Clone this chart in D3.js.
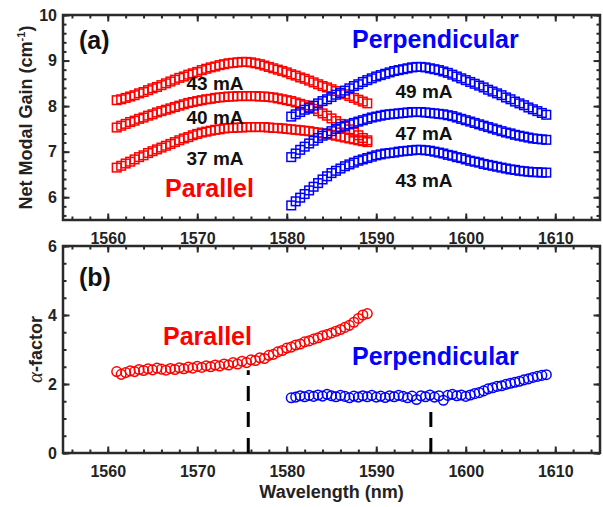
<!DOCTYPE html>
<html>
<head>
<meta charset="utf-8">
<script src="https://cdn.jsdelivr.net/npm/d3@7"></script>
<style>
body { margin: 0; background: #fff; }
svg { display: block; }
text { font-family: "Liberation Sans", Arial, sans-serif; font-weight: bold; }
</style>
</head>
<body>
<div id="chart"></div>
<script>
// wavelength grids (nm)
var wlRed = [1561,1561.5,1562,1562.5,1563,1563.5,1564,1564.5,1565,1565.5,1566,1566.5,1567,1567.5,1568,1568.5,1569,1569.5,1570,1570.5,
  1571,1571.5,1572,1572.5,1573,1573.5,1574,1574.5,1575,1575.5,1576,1576.5,1577,1577.5,1578,1578.5,1579,1579.5,1580,1580.5,
  1581,1581.5,1582,1582.5,1583,1583.5,1584,1584.5,1585,1585.5,1586,1586.5,1587,1587.5,1588,1588.5,1589];
var wlBlue = [1580.5,1581,1581.5,1582,1582.5,1583,1583.5,1584,1584.5,1585,1585.5,1586,1586.5,1587,1587.5,1588,1588.5,1589,1589.5,1590,
  1590.5,1591,1591.5,1592,1592.5,1593,1593.5,1594,1594.5,1595,1595.5,1596,1596.5,1597,1597.5,1598,1598.5,1599,1599.5,1600,
  1600.5,1601,1601.5,1602,1602.5,1603,1603.5,1604,1604.5,1605,1605.5,1606,1606.5,1607,1607.5,1608,1608.5,1609];

// net modal gain (cm-1), parallel
var gainPar43 = [8.13,8.15,8.18,8.21,8.24,8.28,8.31,8.35,8.39,8.42,8.46,8.50,8.54,8.58,8.62,8.65,8.69,8.72,8.75,8.79,
  8.82,8.85,8.87,8.90,8.92,8.94,8.95,8.96,8.97,8.97,8.96,8.94,8.92,8.89,8.86,8.83,8.80,8.77,8.74,8.70,
  8.67,8.63,8.60,8.56,8.52,8.48,8.44,8.41,8.37,8.33,8.29,8.26,8.22,8.18,8.14,8.10,8.06];
var gainPar40 = [7.53,7.57,7.61,7.65,7.68,7.72,7.75,7.79,7.82,7.86,7.89,7.92,7.95,7.98,8.01,8.04,8.07,8.09,8.11,8.13,
  8.15,8.16,8.18,8.19,8.20,8.21,8.21,8.22,8.22,8.22,8.22,8.22,8.21,8.21,8.20,8.19,8.17,8.15,8.13,8.11,
  8.08,8.05,8.02,7.98,7.94,7.89,7.84,7.79,7.73,7.67,7.61,7.55,7.49,7.42,7.36,7.30,7.25];
var gainPar37 = [6.65,6.69,6.74,6.78,6.83,6.88,6.92,6.97,7.01,7.05,7.09,7.13,7.17,7.21,7.25,7.29,7.32,7.36,7.39,7.42,
  7.44,7.46,7.48,7.49,7.51,7.52,7.52,7.53,7.53,7.54,7.54,7.54,7.54,7.54,7.53,7.52,7.52,7.51,7.50,7.49,
  7.48,7.47,7.46,7.45,7.43,7.42,7.40,7.39,7.37,7.35,7.33,7.31,7.29,7.27,7.25,7.23,7.21];

// net modal gain (cm-1), perpendicular
var gainPerp49 = [7.77,7.82,7.87,7.92,7.96,8.01,8.06,8.11,8.15,8.20,8.25,8.29,8.34,8.39,8.44,8.48,8.53,8.57,8.61,8.65,
  8.68,8.71,8.74,8.77,8.79,8.81,8.83,8.85,8.86,8.86,8.85,8.83,8.81,8.79,8.76,8.73,8.69,8.65,8.61,8.57,
  8.53,8.49,8.45,8.41,8.36,8.32,8.28,8.24,8.19,8.15,8.10,8.06,8.02,7.97,7.93,7.89,7.85,7.81];
var gainPerp47 = [6.88,6.96,7.04,7.11,7.18,7.24,7.30,7.35,7.40,7.45,7.50,7.54,7.57,7.60,7.63,7.66,7.69,7.72,7.75,7.77,
  7.79,7.81,7.82,7.83,7.84,7.85,7.86,7.87,7.87,7.87,7.86,7.85,7.84,7.83,7.82,7.80,7.78,7.75,7.72,7.69,
  7.66,7.63,7.60,7.57,7.54,7.51,7.48,7.45,7.42,7.40,7.37,7.35,7.33,7.31,7.29,7.28,7.27,7.26];
var gainPerp43 = [5.82,5.91,5.99,6.07,6.15,6.23,6.31,6.39,6.46,6.53,6.58,6.63,6.68,6.72,6.76,6.80,6.83,6.86,6.89,6.92,
  6.94,6.96,6.97,6.98,7.00,7.01,7.02,7.03,7.04,7.04,7.03,7.02,7.00,6.98,6.96,6.93,6.91,6.88,6.86,6.83,
  6.80,6.78,6.76,6.73,6.71,6.69,6.67,6.65,6.63,6.61,6.60,6.58,6.57,6.56,6.55,6.55,6.54,6.54];

// alpha-factor
var alphaPar = [2.36,2.28,2.33,2.38,2.36,2.42,2.39,2.44,2.41,2.46,2.43,2.40,2.45,2.42,2.47,2.44,2.49,2.46,2.51,2.48,
  2.53,2.50,2.55,2.52,2.58,2.55,2.62,2.58,2.66,2.62,2.70,2.68,2.76,2.74,2.83,2.86,2.93,2.97,3.04,3.07,
  3.13,3.16,3.22,3.25,3.30,3.34,3.40,3.43,3.48,3.53,3.58,3.64,3.70,3.79,3.90,4.00,4.04];
var alphaPerp = [1.60,1.62,1.66,1.63,1.67,1.64,1.68,1.65,1.70,1.66,1.63,1.67,1.64,1.60,1.65,1.62,1.66,1.63,1.67,1.62,
  1.65,1.61,1.66,1.63,1.67,1.64,1.60,1.65,1.55,1.66,1.63,1.68,1.62,1.66,1.53,1.67,1.70,1.66,1.68,1.64,
  1.68,1.72,1.75,1.80,1.86,1.89,1.93,1.95,1.99,2.02,2.05,2.08,2.12,2.15,2.19,2.22,2.25,2.27];

// dashed markers: [wavelength, top alpha]
var dashMarks = [[1575.7, 2.4], [1596.1, 1.25]];

var xTicks = [1560, 1570, 1580, 1590, 1600, 1610];
var gainTicks = [6, 7, 8, 9, 10];
var alphaTicks = [0, 2, 4, 6];

var RED = "#ff0000", BLUE = "#0000ff", AX = "#2a2a2a";

var w = 603, h = 507;
var svg = d3.select("#chart").append("svg").attr("width", w).attr("height", h);

var x = d3.scaleLinear().domain([1555, 1615]).range([63, 600]);
var yTop = d3.scaleLinear().domain([5.5, 10]).range([220, 15]);
var yBot = d3.scaleLinear().domain([0, 6]).range([453, 246]);

function minorRange(a, b, s) {
  var out = [];
  for (var v = a; v <= b + 1e-9; v += s) out.push(+v.toFixed(3));
  return out;
}

function frame(y, yMajor, yMinor) {
  var top = y.range()[1], bot = y.range()[0];
  var x0 = x.range()[0], x1 = x.range()[1];
  var xMinor = minorRange(1556, 1614, 2);

  function styleAxis(g) {
    g.select(".domain").remove();
    g.selectAll("line").attr("stroke", AX).attr("stroke-width", 2);
    g.selectAll("text").attr("fill", "#222").style("font-size", "16px").style("font-weight", "bold");
  }
  // bottom
  svg.append("g").attr("transform", "translate(0," + bot + ")")
    .call(d3.axisBottom(x).tickValues(xMinor).tickFormat("").tickSize(-3.5)).call(styleAxis);
  svg.append("g").attr("transform", "translate(0," + bot + ")")
    .call(d3.axisBottom(x).tickValues(xTicks).tickFormat(d3.format("d")).tickSize(-6.5).tickPadding(13)).call(styleAxis);
  // top
  svg.append("g").attr("transform", "translate(0," + top + ")")
    .call(d3.axisTop(x).tickValues(xMinor).tickFormat("").tickSize(-3.5)).call(styleAxis);
  svg.append("g").attr("transform", "translate(0," + top + ")")
    .call(d3.axisTop(x).tickValues(xTicks).tickFormat("").tickSize(-6.5)).call(styleAxis);
  // left
  svg.append("g").attr("transform", "translate(" + x0 + ",0)")
    .call(d3.axisLeft(y).tickValues(yMinor).tickFormat("").tickSize(-3.5)).call(styleAxis);
  svg.append("g").attr("transform", "translate(" + x0 + ",0)")
    .call(d3.axisLeft(y).tickValues(yMajor).tickFormat(d3.format("d")).tickSize(-6.5).tickPadding(6)).call(styleAxis);
  // right
  svg.append("g").attr("transform", "translate(" + x1 + ",0)")
    .call(d3.axisRight(y).tickValues(yMinor).tickFormat("").tickSize(-3.5)).call(styleAxis);
  svg.append("g").attr("transform", "translate(" + x1 + ",0)")
    .call(d3.axisRight(y).tickValues(yMajor).tickFormat("").tickSize(-6.5)).call(styleAxis);

  svg.append("rect").attr("x", x0).attr("y", top).attr("width", x1 - x0).attr("height", bot - top)
    .attr("fill", "none").attr("stroke", AX).attr("stroke-width", 2.5);
}

frame(yTop, gainTicks, minorRange(5.6, 10, 0.2));
frame(yBot, alphaTicks, minorRange(0, 6, 0.5));

function squares(wl, vals, color) {
  svg.append("g").selectAll("rect")
    .data(vals)
    .enter()
    .append("rect")
    .attr("x", function(d, i) { return x(wl[i]) - 4.3; })
    .attr("y", function(d) { return yTop(d) - 4.3; })
    .attr("width", 8.6)
    .attr("height", 8.6)
    .attr("fill", "none")
    .attr("stroke", color)
    .attr("stroke-width", 1.5);
}

function circles(wl, vals, color) {
  svg.append("g").selectAll("circle")
    .data(vals)
    .enter()
    .append("circle")
    .attr("cx", function(d, i) { return x(wl[i]); })
    .attr("cy", function(d) { return yBot(d); })
    .attr("r", 4.8)
    .attr("fill", "none")
    .attr("stroke", color)
    .attr("stroke-width", 1.5);
}

squares(wlRed, gainPar43, RED);
squares(wlRed, gainPar40, RED);
squares(wlRed, gainPar37, RED);
squares(wlBlue, gainPerp49, BLUE);
squares(wlBlue, gainPerp47, BLUE);
squares(wlBlue, gainPerp43, BLUE);

circles(wlRed, alphaPar, RED);
circles(wlBlue, alphaPerp, BLUE);

svg.append("g").selectAll("line")
  .data(dashMarks)
  .enter()
  .append("line")
  .attr("x1", function(d) { return x(d[0]); })
  .attr("x2", function(d) { return x(d[0]); })
  .attr("y1", function(d) { return yBot(0); })
  .attr("y2", function(d) { return yBot(d[1]); })
  .attr("stroke", "#000")
  .attr("stroke-width", 3)
  .attr("stroke-dasharray", "15,11");

// text labels
function label(tx, ty, str, size, color, anchor) {
  return svg.append("text").attr("x", tx).attr("y", ty).text(str)
    .attr("fill", color).style("font-size", size + "px").attr("text-anchor", anchor || "start");
}

label(79, 49, "(a)", 25, "#111");
label(79, 286, "(b)", 25, "#111");
label(352, 48, "Perpendicular", 25, BLUE);
label(165, 197, "Parallel", 25, RED);
label(163, 345, "Parallel", 25, RED);
label(352, 365, "Perpendicular", 25, BLUE);

label(215, 90, "43 mA", 19, "#111", "middle");
label(215, 124, "40 mA", 19, "#111", "middle");
label(215, 165, "37 mA", 19, "#111", "middle");
label(424, 98, "49 mA", 19, "#111", "middle");
label(424, 140, "47 mA", 19, "#111", "middle");
label(424, 187, "43 mA", 19, "#111", "middle");

// axis titles
var yl = svg.append("text")
  .attr("transform", "translate(32," + ((15 + 220) / 2) + ") rotate(-90)")
  .attr("text-anchor", "middle").attr("fill", "#222").style("font-size", "18px");
yl.append("tspan").text("Net Modal Gain (cm");
yl.append("tspan").text("-1").style("font-size", "11px").attr("dy", "-7");
yl.append("tspan").text(")").attr("dy", "7");

var al = svg.append("text")
  .attr("transform", "translate(42," + ((246 + 453) / 2) + ") rotate(-90)")
  .attr("text-anchor", "middle").attr("fill", "#222").style("font-size", "18px");
al.append("tspan").text("\u03b1").style("font-family", "'Liberation Serif', 'Times New Roman', serif")
  .style("font-style", "italic").style("font-weight", "normal").style("font-size", "21px");
al.append("tspan").text("-factor");

label((63 + 600) / 2, 498, "Wavelength (nm)", 18, "#222", "middle");
</script>
</body>
</html>
